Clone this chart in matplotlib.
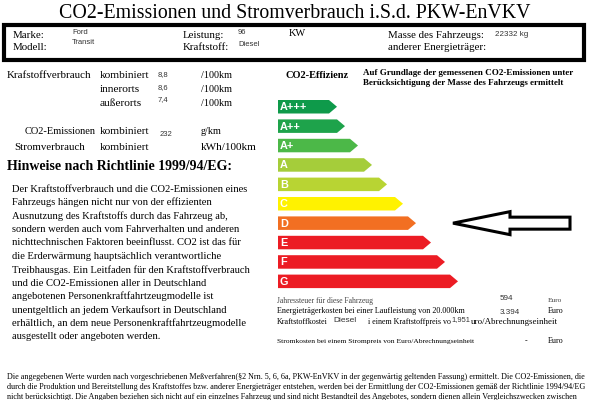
import matplotlib.pyplot as plt
from matplotlib.patches import Polygon, Rectangle

# header data
marke = "Ford"
modell = "Transit"
leistung = "96"
kraftstoff = "Diesel"
masse = "22332 kg"

# consumption data
verbrauch_labels = ["kombiniert", "innerorts", "außerorts"]
verbrauch_werte = ["8,8", "8,6", "7,4"]
co2_wert = "232"

# efficiency classes
classes = ["A+++", "A++", "A+", "A", "B", "C", "D", "E", "F", "G"]
class_len = [59, 67, 80, 94, 109, 125, 138, 153, 167, 180]
class_colors = ["#0e9a4a", "#1ea34b", "#4cb848", "#a5cd3a", "#b8d433", "#fff200",
                "#f26f22", "#ec1c24", "#ec1c24", "#ec1c24"]
rating = "D"

# costs
steuer = "594"
energiekosten = "3.394"
preis = "1,951"

hinweis = [
    "Der Kraftstoffverbrauch und die CO2-Emissionen eines",
    "Fahrzeugs hängen nicht nur von der effizienten",
    "Ausnutzung des Kraftstoffs durch das Fahrzeug ab,",
    "sondern werden auch vom Fahrverhalten und anderen",
    "nichttechnischen Faktoren beeinflusst. CO2 ist das für",
    "die Erderwärmung hauptsächlich verantwortliche",
    "Treibhausgas. Ein Leitfaden für den Kraftstoffverbrauch",
    "und die CO2-Emissionen aller in Deutschland",
    "angebotenen Personenkraftfahrtzeugmodelle ist",
    "unentgeltlich an jedem Verkaufsort in Deutschland",
    "erhältlich, an dem neue Personenkraftfahrtzeugmodelle",
    "ausgestellt oder angeboten werden.",
]

footer = [
    "Die angegebenen Werte wurden nach vorgeschriebenen Meßverfahren(§2 Nrn. 5, 6, 6a, PKW-EnVKV in der gegenwärtig geltenden Fassung) ermittelt. Die CO2-Emissionen, die",
    "durch die Produktion und Bereitstellung des Kraftstoffes bzw. anderer Energieträger entstehen, werden bei der Ermittlung der CO2-Emissionen gemäß der Richtlinie 1994/94/EG",
    "nicht berücksichtigt. Die Angaben beziehen sich nicht auf ein einzelnes Fahrzeug und sind nicht Bestandteil des Angebotes, sondern dienen allein Vergleichszwecken zwischen",
]

SERIF = "Liberation Serif"
SANS = "Liberation Sans"
VAL = "#333333"

fig = plt.figure(figsize=(6, 4), dpi=100)
ax = fig.add_axes([0, 0, 1, 1])
ax.set_xlim(0, 600)
ax.set_ylim(400, 0)
ax.axis("off")


def t(x, y, s, size, family=SERIF, weight="normal", color="black", ha="left"):
    ax.text(x, y, s, fontsize=size, family=family, fontweight=weight,
            color=color, ha=ha, va="center")


# title
t(295, 14, "CO2-Emissionen und Stromverbrauch i.S.d. PKW-EnVKV", 14.3, ha="center")

# header box
ax.add_patch(Rectangle((4, 25), 580, 35, fill=False, lw=3, ec="black"))
t(13, 36, "Marke:", 7.8)
t(13, 47, "Modell:", 7.8)
t(72, 32, marke, 5.5, family=SANS, color=VAL)
t(72, 43, modell, 5.5, family=SANS, color=VAL)
t(183, 36, "Leistung:", 7.8)
t(183, 47, "Kraftstoff:", 7.8)
t(238, 33, leistung, 5.5, family=SANS, color=VAL)
t(238, 44, kraftstoff, 5.5, family=SANS, color=VAL)
t(289, 34, "KW", 7.5)
t(388, 36, "Masse des Fahrzeugs:", 7.8)
t(388, 48, "anderer Energieträger:", 7.8)
t(495, 34, masse, 5.8, family=SANS, color=VAL)

# consumption block
t(7, 76, "Krafstoffverbrauch", 7.9)
for i, (lab, val) in enumerate(zip(verbrauch_labels, verbrauch_werte)):
    y = 76 + i * 13.5
    t(100, y, lab, 8.2)
    t(158, y - 1.5 - i * 0.8, val, 5.5, family=SANS, color=VAL)
    t(201, y, "/100km", 7.3)

t(25, 132, "CO2-Emissionen", 7.5)
t(100, 131, "kombiniert", 8.2)
t(160, 135, co2_wert, 5.5, family=SANS, color=VAL)
t(201, 132, "g/km", 7.3)

t(14, 147, "Stromverbrauch", 7.8)
t(100, 147, "kombiniert", 8.2)
t(201, 147, "kWh/100km", 8)

t(7, 166, "Hinweise nach Richtlinie 1999/94/EG:", 10, weight="bold")
for i, line in enumerate(hinweis):
    t(12, 189 + i * 13.45, line, 7.6)

# efficiency scale
t(285, 75, "CO2-Effizienz", 7.5, weight="bold")
t(363, 73, "Auf Grundlage der gemessenen CO2-Emissionen unter", 6.5, weight="bold")
t(363, 83, "Berücksichtigung der Masse des Fahrzeugs ermittelt", 6.5, weight="bold")

x0 = 278
bar_h = 13.5
for i, (cls, ln, col) in enumerate(zip(classes, class_len, class_colors)):
    top = 100 + i * 19.4
    tip = x0 + ln
    pts = [(x0, top), (tip - 8, top), (tip, top + bar_h / 2),
           (tip - 8, top + bar_h), (x0, top + bar_h)]
    ax.add_patch(Polygon(pts, closed=True, fc=col, ec="none"))
    t(280, top + bar_h / 2 + 0.5, cls, 7.8, family=SANS, weight="bold", color="white")

# rating arrow
r = classes.index(rating)
yc = 100 + r * 19.4 + bar_h / 2
arrow = [(453, yc), (510, yc - 11.5), (510, yc - 6), (570, yc - 6),
         (570, yc + 6), (510, yc + 6), (510, yc + 11.5)]
ax.add_patch(Polygon(arrow, closed=True, fc="white", ec="black", lw=2.2))

# costs
t(277, 301, "Jahressteuer für diese Fahrzeug", 5.5, color="#444444")
t(500, 299, steuer, 5.8, family=SANS, color=VAL)
t(548, 301, "Euro", 5.3, color="#444444")
t(277, 311, "Energieträgerkosten bei einer Laufleistung von 20.000km", 5.9)
t(500, 312, energiekosten, 5.8, family=SANS, color=VAL)
t(548, 311, "Euro", 5.8)
t(277, 322, "Kraftstoffkostei", 5.8)
t(333, 320, kraftstoff, 6, family=SANS, color=VAL)
t(368, 322, "i einem Kraftstoffpreis vo", 5.8)
t(451, 320, preis, 5.4, family=SANS, color=VAL)
t(471, 322, "uro/Abrechnungseinheit", 6.4)
t(277, 341, "Stromkosten bei einem Strompreis von Euro/Abrechnungseinheit", 5.4)
t(525, 341, "-", 5.8)
t(548, 341, "Euro", 5.8)

# footer
for i, line in enumerate(footer):
    t(7, 377 + i * 9.8, line, 5.85)

fig.savefig("out.png", dpi=100)
